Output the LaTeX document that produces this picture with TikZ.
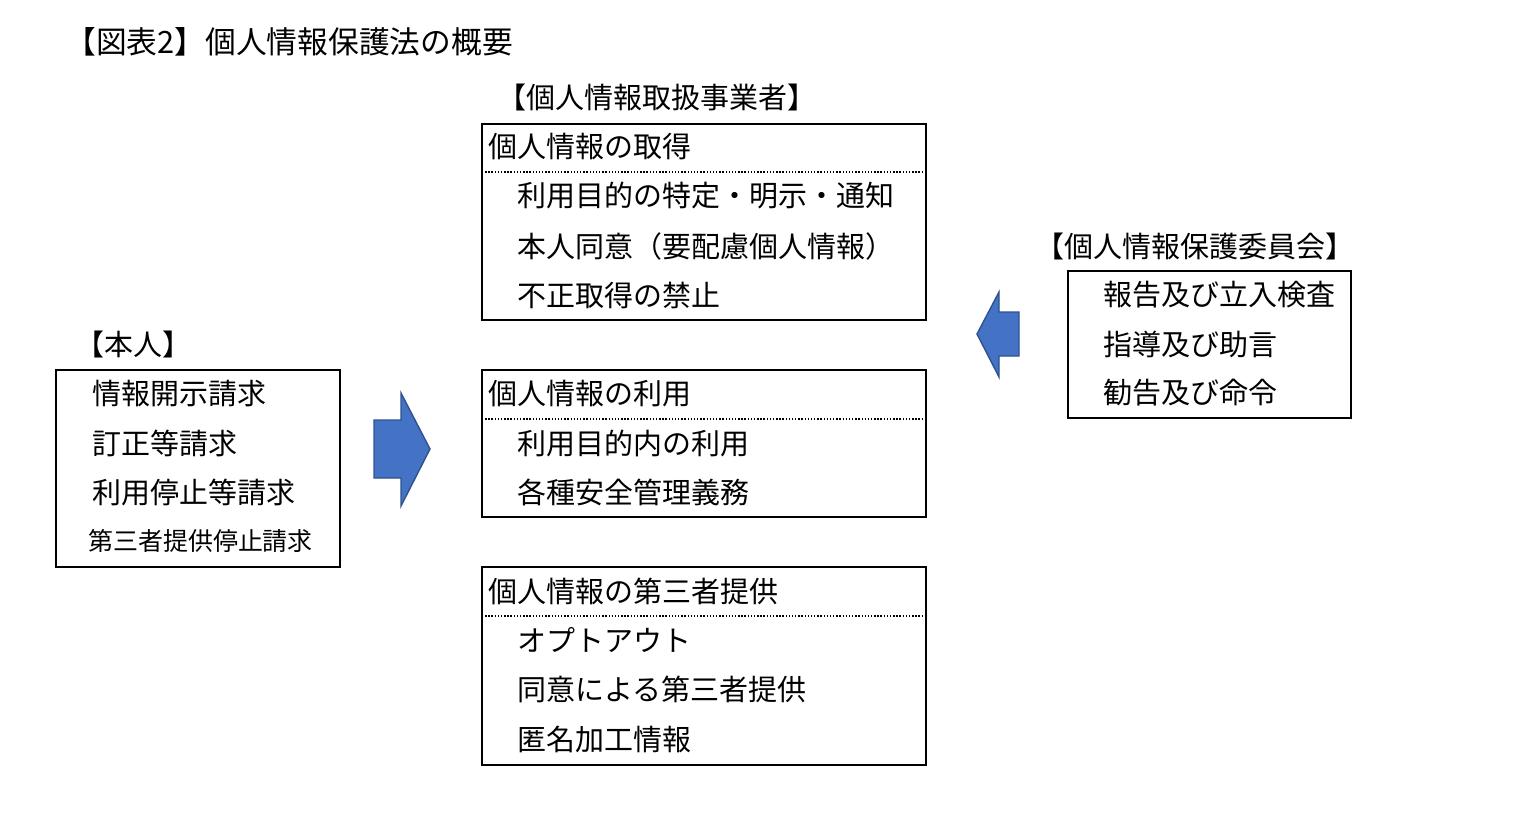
\documentclass[tikz,border=0pt]{standalone}
\usepackage{fontspec}
\setmainfont{Noto Sans CJK JP}
\tikzset{%
    frame/.style = {draw=black, thick, line width=1.4pt},
    txt/.style = {anchor=west, inner sep=0pt, font=\fontsize{16.5}{18}\selectfont},
    bigarrow/.style = {draw={rgb,255:red,47;green,82;blue,143},
        fill={rgb,255:red,68;green,114;blue,196}, line width=0.8pt}
}
\begin{document}
\begin{tikzpicture}[x=0.02cm, y=-0.02cm]
    \useasboundingbox (0,0) rectangle (1516,818);
    \node [txt, font=\fontsize{17.5}{20}\selectfont] (title) at (65,42) {【図表2】個人情報保護法の概要};
    % business operator
    \node [txt] (bizlabel) at (497,97) {【個人情報取扱事業者】};
    \draw [frame] (482,124) rectangle (926,320);
    \draw [densely dotted, thick] (482,172) -- (926,172);
    \node [txt] (getH) at (488,147) {個人情報の取得};
    \node [txt] (get1) at (517,196) {利用目的の特定・明示・通知};
    \node [txt] (get2) at (517,246) {本人同意（要配慮個人情報）};
    \node [txt] (get3) at (517,295) {不正取得の禁止};
    \draw [frame] (482,370) rectangle (926,517);
    \draw [densely dotted, thick] (482,419) -- (926,419);
    \node [txt] (useH) at (488,394) {個人情報の利用};
    \node [txt] (use1) at (517,443) {利用目的内の利用};
    \node [txt] (use2) at (517,492) {各種安全管理義務};
    \draw [frame] (482,567) rectangle (926,765);
    \draw [densely dotted, thick] (482,616) -- (926,616);
    \node [txt] (provH) at (488,591) {個人情報の第三者提供};
    \node [txt] (prov1) at (517,640) {オプトアウト};
    \node [txt] (prov2) at (517,689) {同意による第三者提供};
    \node [txt] (prov3) at (517,739) {匿名加工情報};
    % person
    \node [txt] (selflabel) at (75,344) {【本人】};
    \draw [frame] (56,370) rectangle (340,567);
    \node [txt] (self1) at (92,394) {情報開示請求};
    \node [txt] (self2) at (92,443) {訂正等請求};
    \node [txt] (self3) at (92,492) {利用停止等請求};
    \node [txt, font=\fontsize{14.2}{16}\selectfont] (self4) at (88,541) {第三者提供停止請求};
    % commission
    \node [txt] (comlabel) at (1035,246) {【個人情報保護委員会】};
    \draw [frame] (1068,271) rectangle (1351,418);
    \node [txt] (com1) at (1103,295) {報告及び立入検査};
    \node [txt] (com2) at (1103,344) {指導及び助言};
    \node [txt] (com3) at (1103,393) {勧告及び命令};
    % arrows
    \draw [bigarrow] (374,420) -- (401,420) -- (401,393) -- (430,449)
        -- (401,506) -- (401,478) -- (374,478) -- cycle;
    \draw [bigarrow] (1019,312) -- (999,312) -- (999,292) -- (977,334)
        -- (999,377) -- (999,356) -- (1019,356) -- cycle;
\end{tikzpicture}
\end{document}
